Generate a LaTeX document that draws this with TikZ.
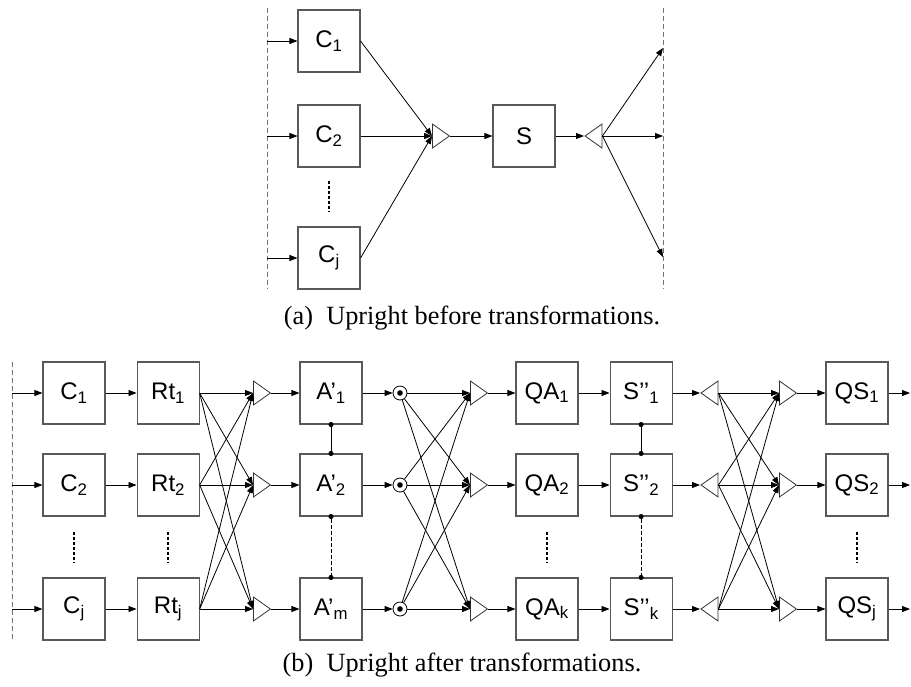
\documentclass[tikz,border=0pt]{standalone}
\usepackage{fontspec}
\setsansfont{Liberation Sans}
\setmainfont{Liberation Serif}
\usepackage{tikz}
\usetikzlibrary{arrows.meta}
\usetikzlibrary{positioning}
\usetikzlibrary{shapes.geometric}

\begin{document}
\begin{tikzpicture}[
    x=1pt, y=-1pt,
    >={Triangle[length=8pt,width=6pt]},
    blk/.style={%
      draw=black!65,
      line width=1.1pt,
      rectangle,
      minimum width=62pt,
      minimum height=62pt,
      inner sep=0pt,
      font=\sffamily\fontsize{24}{28}\selectfont,
    },
    mrg/.style={%
      draw=black!80,
      line width=0.8pt,
      isosceles triangle,
      isosceles triangle stretches,
      minimum width=24pt,
      minimum height=17pt,
      inner sep=0pt,
    },
    spl/.style={%
      mrg,
      shape border rotate=180,
    },
    mul/.style={%
      draw,
      circle,
      line width=0.8pt,
      minimum size=14pt,
      inner sep=0pt,
      path picture={\fill (path picture bounding box.center) circle (2.8pt);},
    },
    wire/.style={->, line width=0.8pt},
    link/.style={%
      {Circle[length=5pt]}-{Circle[length=5pt]},
      line width=0.9pt,
      shorten <=-2.5pt,
      shorten >=-2.5pt,
    },
    guide/.style={draw=black!55, line width=0.8pt, dash pattern=on 5pt off 3pt},
    vdots/.style={line width=2pt, dash pattern=on 3pt off 2pt},
    subcap/.style={font=\rmfamily\fontsize{26.3}{30}\selectfont},
  ]
    \useasboundingbox (0,0) rectangle (911,686);

    % (a) before
    \draw[guide] (267,8) -- (267,289);
    \draw[guide] (663,8) -- (663,289);

    \node [blk] (C1) at (329,41) {C\textsubscript{1}};
    \node [blk] (C2) at (329,136) {C\textsubscript{2}};
    \node [blk] (Cj) at (329,258) {C\textsubscript{j}};
    \node [mrg, anchor=west] (M) at (432,136) {};
    \node [blk] (S) at (524,136) {S};
    \node [spl, anchor=west] (P) at (584,136) {};

    \coordinate (i1) at (267,41);
    \coordinate (i2) at (267,136);
    \coordinate (ij) at (267,258);
    \coordinate (o1) at (663,48);
    \coordinate (o2) at (663,136);
    \coordinate (oj) at (663,257);

    \draw[wire] (i1) -- (C1);
    \draw[wire] (i2) -- (C2);
    \draw[wire] (ij) -- (Cj);
    \draw[wire] (C1.east) -- (M.west);
    \draw[wire] (C2.east) -- (M.west);
    \draw[wire] (Cj.east) -- (M.west);
    \draw[wire] (M.east) -- (S);
    \draw[wire] (S.east) -- (P.west);
    \draw[wire] (P.east) -- (o1);
    \draw[wire] (P.east) -- (o2);
    \draw[wire] (P.east) -- (oj);
    \draw[vdots] (C2.south) ++(0,13) -- ++(0,31);

    \node [subcap] (capa) at (472,318) {(a)\enspace Upright before transformations.};

    % (b) after
    \draw[guide] (12,362) -- (12,641);

    \node [blk] (c1) at (74,393) {C\textsubscript{1}};
    \node [blk] (c2) at (74,485) {C\textsubscript{2}};
    \node [blk] (cj) at (74,609) {C\textsubscript{j}};
    \node [blk, right=31pt of c1] (rt1) {Rt\textsubscript{1}};
    \node [blk, right=31pt of c2] (rt2) {Rt\textsubscript{2}};
    \node [blk, right=31pt of cj] (rtj) {Rt\textsubscript{j}};
    \node [mrg, anchor=west] (m1) at (253,393) {};
    \node [mrg, anchor=west] (m2) at (253,485) {};
    \node [mrg, anchor=west] (mj) at (253,609) {};
    \node [blk] (a1) at (331,393) {A’\textsubscript{1}};
    \node [blk] (a2) at (331,485) {A’\textsubscript{2}};
    \node [blk] (am) at (331,609) {A’\textsubscript{m}};
    \node [mul] (x1) at (400,393) {};
    \node [mul] (x2) at (400,485) {};
    \node [mul] (xm) at (400,609) {};
    \node [mrg, anchor=west] (n1) at (470,393) {};
    \node [mrg, anchor=west] (n2) at (470,485) {};
    \node [mrg, anchor=west] (nk) at (470,609) {};
    \node [blk] (qa1) at (547,393) {QA\textsubscript{1}};
    \node [blk] (qa2) at (547,485) {QA\textsubscript{2}};
    \node [blk] (qak) at (547,609) {QA\textsubscript{k}};
    \node [blk, right=31pt of qa1] (s1) {S’’\textsubscript{1}};
    \node [blk, right=31pt of qa2] (s2) {S’’\textsubscript{2}};
    \node [blk, right=31pt of qak] (sk) {S’’\textsubscript{k}};
    \node [spl, anchor=west] (p1) at (700,393) {};
    \node [spl, anchor=west] (p2) at (700,485) {};
    \node [spl, anchor=west] (pk) at (700,609) {};
    \node [mrg, anchor=west] (k1) at (779,393) {};
    \node [mrg, anchor=west] (k2) at (779,485) {};
    \node [mrg, anchor=west] (kj) at (779,609) {};
    \node [blk] (qs1) at (857,393) {QS\textsubscript{1}};
    \node [blk] (qs2) at (857,485) {QS\textsubscript{2}};
    \node [blk] (qsj) at (857,609) {QS\textsubscript{j}};

    \coordinate (e1) at (12,393);
    \coordinate (e2) at (12,485);
    \coordinate (ej) at (12,609);
    \coordinate (f1) at (910,393);
    \coordinate (f2) at (910,485);
    \coordinate (fj) at (910,609);

    \draw[wire] (e1) -- (c1);
    \draw[wire] (e2) -- (c2);
    \draw[wire] (ej) -- (cj);
    \draw[wire] (c1) -- (rt1);
    \draw[wire] (c2) -- (rt2);
    \draw[wire] (cj) -- (rtj);

    \draw[wire] (rt1.east) -- (m1.west);
    \draw[wire] (rt1.east) -- (m2.west);
    \draw[wire] (rt1.east) -- (mj.west);
    \draw[wire] (rt2.east) -- (m1.west);
    \draw[wire] (rt2.east) -- (m2.west);
    \draw[wire] (rt2.east) -- (mj.west);
    \draw[wire] (rtj.east) -- (m1.west);
    \draw[wire] (rtj.east) -- (m2.west);
    \draw[wire] (rtj.east) -- (mj.west);

    \draw[wire] (m1.east) -- (a1);
    \draw[wire] (m2.east) -- (a2);
    \draw[wire] (mj.east) -- (am);
    \draw[wire] (a1) -- (x1);
    \draw[wire] (a2) -- (x2);
    \draw[wire] (am) -- (xm);

    \draw[wire] (x1) -- (n1.west);
    \draw[wire] (x1) -- (n2.west);
    \draw[wire] (x1) -- (nk.west);
    \draw[wire] (x2) -- (n1.west);
    \draw[wire] (x2) -- (n2.west);
    \draw[wire] (x2) -- (nk.west);
    \draw[wire] (xm) -- (n1.west);
    \draw[wire] (xm) -- (n2.west);
    \draw[wire] (xm) -- (nk.west);

    \draw[wire] (n1.east) -- (qa1);
    \draw[wire] (n2.east) -- (qa2);
    \draw[wire] (nk.east) -- (qak);
    \draw[wire] (qa1) -- (s1);
    \draw[wire] (qa2) -- (s2);
    \draw[wire] (qak) -- (sk);
    \draw[wire] (s1.east) -- (p1.west);
    \draw[wire] (s2.east) -- (p2.west);
    \draw[wire] (sk.east) -- (pk.west);

    \draw[wire] (p1.east) -- (k1.west);
    \draw[wire] (p1.east) -- (k2.west);
    \draw[wire] (p1.east) -- (kj.west);
    \draw[wire] (p2.east) -- (k1.west);
    \draw[wire] (p2.east) -- (k2.west);
    \draw[wire] (p2.east) -- (kj.west);
    \draw[wire] (pk.east) -- (k1.west);
    \draw[wire] (pk.east) -- (k2.west);
    \draw[wire] (pk.east) -- (kj.west);

    \draw[wire] (k1.east) -- (qs1);
    \draw[wire] (k2.east) -- (qs2);
    \draw[wire] (kj.east) -- (qsj);
    \draw[wire] (qs1) -- (f1);
    \draw[wire] (qs2) -- (f2);
    \draw[wire] (qsj) -- (fj);

    \draw[link] (a1.south) -- (a2.north);
    \draw[link, dash pattern=on 4pt off 2pt] (a2.south) -- (am.north);
    \draw[link] (s1.south) -- (s2.north);
    \draw[link, dash pattern=on 4pt off 2pt] (s2.south) -- (sk.north);

    \draw[vdots] (c2.south) ++(0,15) -- ++(0,31);
    \draw[vdots] (rt2.south) ++(0,15) -- ++(0,31);
    \draw[vdots] (qa2.south) ++(0,15) -- ++(0,31);
    \draw[vdots] (qs2.south) ++(0,15) -- ++(0,31);

    \node [subcap] (capb) at (462,665) {(b)\enspace Upright after transformations.};
\end{tikzpicture}
\end{document}
